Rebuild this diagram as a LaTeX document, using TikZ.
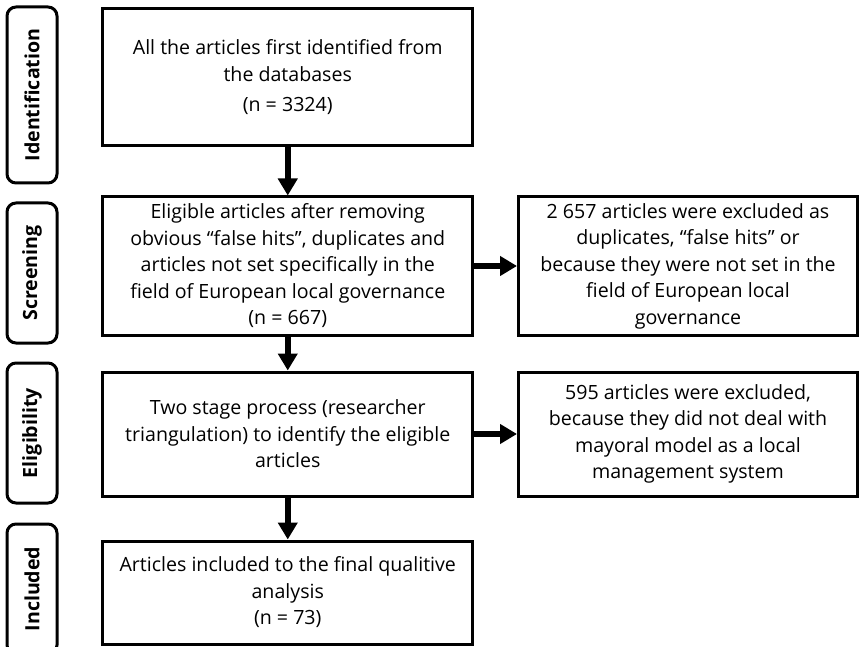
\documentclass[tikz,border=0pt]{standalone}
\usepackage{fontspec}
\setmainfont{Open Sans}
\usetikzlibrary{arrows.meta}
\begin{document}
\begin{tikzpicture}[x=1pt,y=-1pt,
  box/.style={draw=black,line width=3pt,fill=white,align=center,inner sep=0pt,
    font=\fontsize{19.6}{26.5}\selectfont},
  side/.style={draw=black,line width=3pt,rounded corners=9pt,inner sep=0pt,
    minimum width=50pt},
  sidetext/.style={rotate=90,font=\bfseries\fontsize{19.6}{22}\selectfont},
  flow/.style={line width=6.5pt,-{Triangle[width=19pt,length=17pt]}}]
\useasboundingbox (0,0) rectangle (860,647);
\begin{scope}
\clip (0,0) rectangle (860,647);
\node[side,minimum height=176pt] (s1) at (32,95) {};
\node[sidetext] (t1) at (s1.center) {Identification};
\node[side,minimum height=140pt] (s2) at (32,273) {};
\node[sidetext] (t2) at (s2.center) {Screening};
\node[side,minimum height=140pt] (s3) at (32,433) {};
\node[sidetext] (t3) at (s3.center) {Eligibility};
\node[side,minimum height=130pt] (s4) at (32,589) {};
\node[sidetext] (t4) at (s4.center) {Included};
\end{scope}

\node[box,minimum width=370pt,minimum height=137pt] (b1) at (287.75,77.5)
  {All the articles first identified from\\the databases\\[4pt](n = 3324)};
\node[box,minimum width=370pt,minimum height=138pt] (b2) at (287.75,266)
  {Eligible articles after removing\\obvious “false hits”, duplicates and\\articles not set specifically in the\\field of European local governance\\(n = 667)};
\node[box,minimum width=370pt,minimum height=124pt] (b3) at (287.75,434)
  {Two stage process (researcher\\triangulation) to identify the eligible\\articles};
\node[box,minimum width=370pt,minimum height=103pt] (b4) at (287.75,592.5)
  {Articles included to the final qualitive\\analysis\\(n = 73)};
\node[box,minimum width=339pt,minimum height=138pt] (r2) at (688,266)
  {2 657 articles were excluded as\\duplicates, “false hits” or\\because they were not set in the\\field of European local\\governance};
\node[box,minimum width=339pt,minimum height=124pt] (r3) at (688,434)
  {595 articles were excluded,\\because they did not deal with\\mayoral model as a local\\management system};

\draw[flow] (b1.south) -- (b2.north);
\draw[flow] (b2.south) -- (b3.north);
\draw[flow] (b3.south) -- (b4.north);
\draw[flow] (b2.east) -- (r2.west);
\draw[flow] (b3.east) -- (r3.west);
\end{tikzpicture}
\end{document}
